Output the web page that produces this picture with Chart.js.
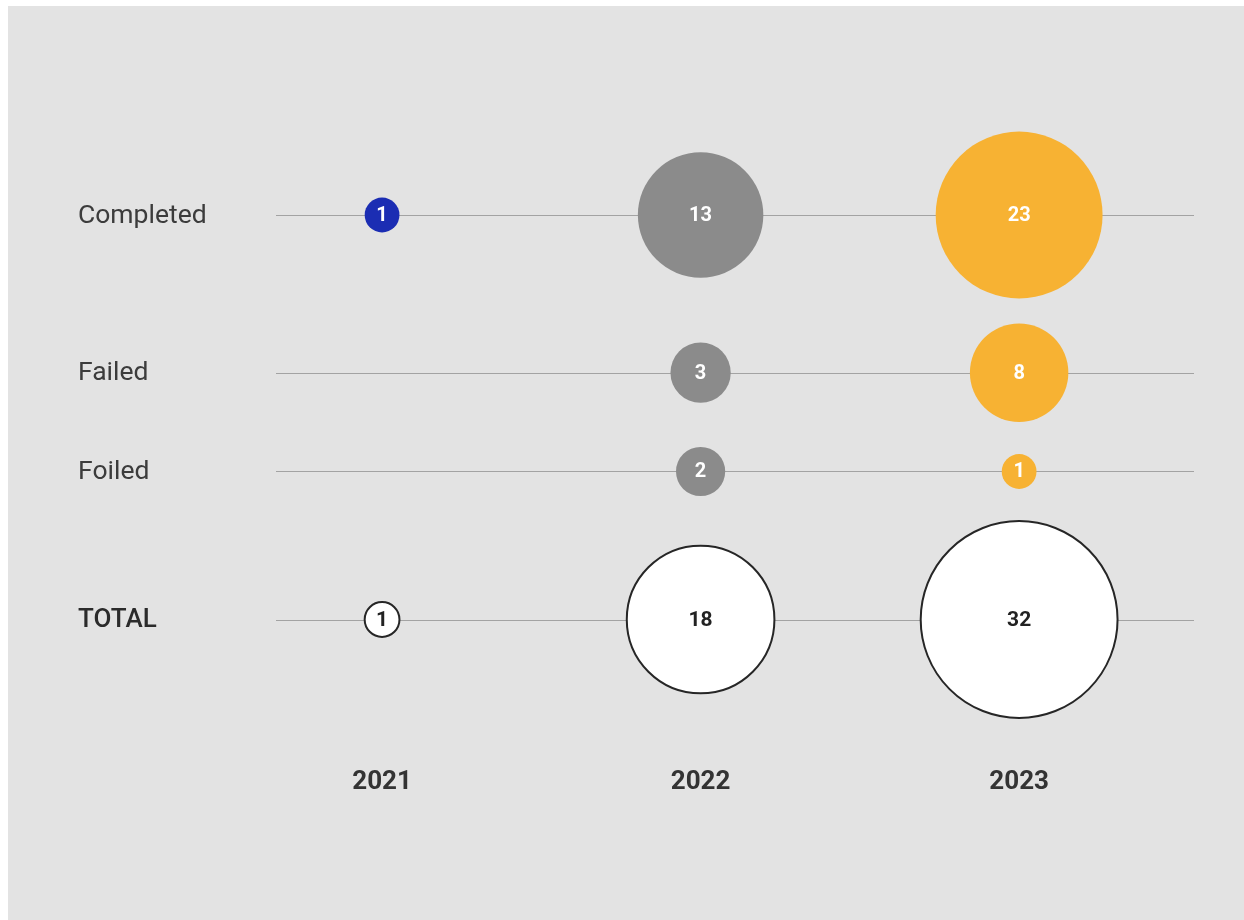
<!DOCTYPE html>
<html>
<head>
<meta charset="utf-8">
<script src="https://cdn.jsdelivr.net/npm/chart.js@4"></script>
<style>
  html, body { margin: 0; padding: 0; background: #ffffff; }
  #wrap { position: absolute; left: 8px; top: 6px; width: 1236px; height: 914px; background: #e3e3e3; }
  canvas { display: block; }
</style>
</head>
<body>
<div id="wrap"><canvas id="myChart" width="1236" height="914"></canvas></div>
<script>
let years = ["2021", "2022", "2023"];
let rows = ["Completed", "Failed", "Foiled", "TOTAL"];
let completed = [1, 13, 23];
let failed = [null, 3, 8];
let foiled = [null, 2, 1];
let total = [1, 18, 32];

let yearColors = ["#1b2db3", "#8b8b8b", "#f7b233"];
let k = 17.4; // radius per sqrt(value)
let gap = 25;

let series = [completed, failed, foiled, total];

// row centres stacked so the biggest bubbles of neighbouring rows keep the same gap
let maxR = series.map(s => Math.max(...s.filter(v => v != null).map(v => k * Math.sqrt(v))));
let rowPos = [0];
for (let i = 1; i < rows.length; i++) {
    rowPos.push(rowPos[i - 1] + maxR[i - 1] + maxR[i] + gap);
}

let datasets = series.map((vals, r) => {
    let isTotal = rows[r] === "TOTAL";
    return {
        label: rows[r],
        data: vals.map((v, i) => v == null ? null : { x: i, y: rowPos[r], r: k * Math.sqrt(v), v: v }).filter(p => p),
        backgroundColor: ctx => isTotal ? "#ffffff" : yearColors[ctx.raw ? ctx.raw.x : 0],
        borderColor: "#262626",
        borderWidth: isTotal ? 2 : 0,
        hoverBorderWidth: isTotal ? 2 : 0,
        clip: false
    };
});

let decor = {
    id: "decor",
    beforeDatasetsDraw(chart) {
        let c = chart.ctx, a = chart.chartArea, ys = chart.scales.y;
        c.save();
        c.strokeStyle = "#a3a3a3";
        c.lineWidth = 1;
        rowPos.forEach(p => {
            let y = Math.round(ys.getPixelForValue(p)) + 0.5;
            c.beginPath();
            c.moveTo(a.left, y);
            c.lineTo(a.right, y);
            c.stroke();
        });
        c.restore();
    },
    afterDatasetsDraw(chart) {
        let c = chart.ctx, xs = chart.scales.x, ys = chart.scales.y;
        c.save();
        // row labels
        c.textBaseline = "middle";
        c.textAlign = "left";
        rows.forEach((name, r) => {
            let isTotal = name === "TOTAL";
            c.fillStyle = isTotal ? "#2b2b2b" : "#3c3c3c";
            c.font = (isTotal ? "500 26px" : "400 26.5px") + " Roboto";
            c.fillText(name, 70, ys.getPixelForValue(rowPos[r]) + 1);
        });
        // year labels
        c.textAlign = "center";
        c.fillStyle = "#333333";
        c.font = "700 26px Roboto";
        years.forEach((yr, i) => c.fillText(yr, xs.getPixelForValue(i), 776));
        // values inside bubbles
        chart.data.datasets.forEach((ds, r) => {
            let isTotal = rows[r] === "TOTAL";
            ds.data.forEach(p => {
                c.fillStyle = isTotal ? "#222222" : "#ffffff";
                c.font = "700 " + (isTotal ? 21 : 20) + "px Roboto";
                c.fillText(p.v, xs.getPixelForValue(p.x), ys.getPixelForValue(p.y) + 1);
            });
        });
        c.restore();
    }
};

let myChart = new Chart(document.getElementById("myChart").getContext("2d"), {
    type: "bubble",
    data: { datasets: datasets },
    options: {
        responsive: false,
        animation: false,
        events: [],
        layout: { autoPadding: false, padding: { left: 268, right: 50, top: 109, bottom: 180 } },
        plugins: { legend: { display: false }, tooltip: { enabled: false } },
        scales: {
            x: { type: "linear", display: false, min: -0.333, max: 2.549 },
            y: { type: "linear", display: false, reverse: true, min: -100, max: 525 }
        }
    },
    plugins: [decor]
});
</script>
</body>
</html>
